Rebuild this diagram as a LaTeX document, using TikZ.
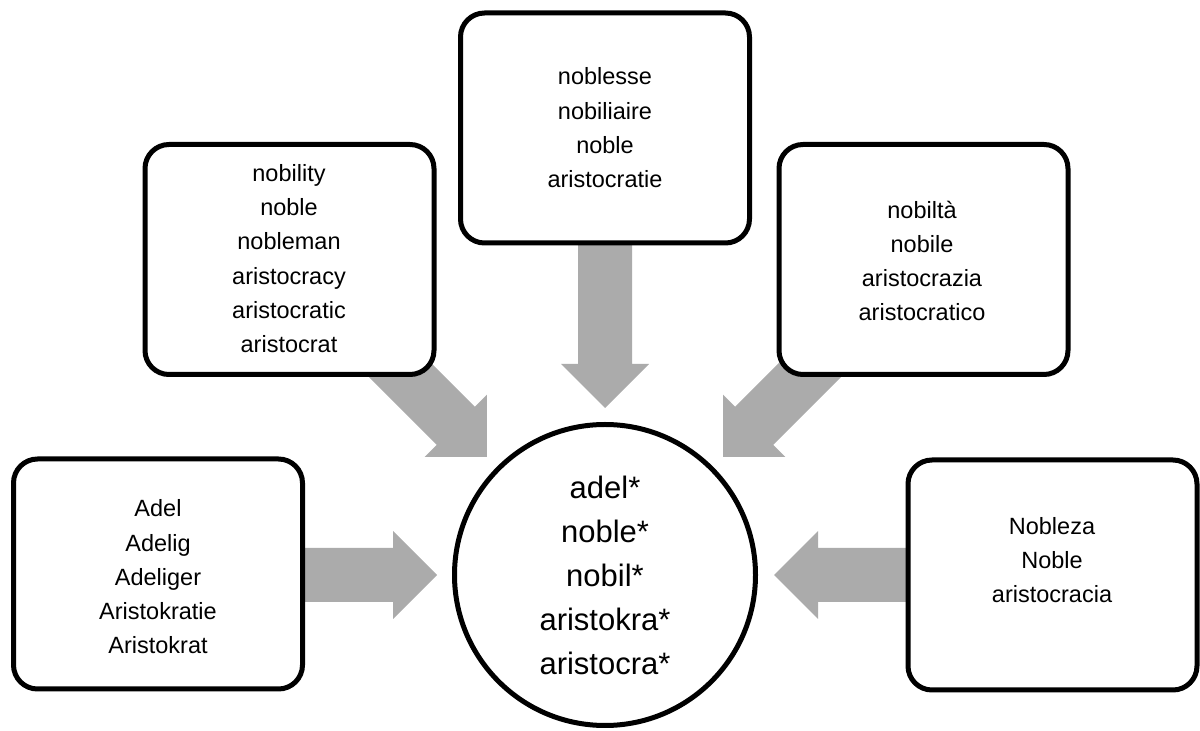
\documentclass[tikz,border=0pt]{standalone}
\usepackage{fontspec}
\setmainfont{Liberation Sans}
\usetikzlibrary{calc}
\pgfdeclarelayer{background}
\pgfsetlayers{background,main}
\tikzset{
  wordbox/.style={draw=black, line width=5pt, rounded corners=24pt, fill=white,
    minimum width=289pt, minimum height=230pt, inner sep=0pt},
  corecircle/.style={circle, draw=black, line width=5pt, fill=white,
    minimum size=301pt, inner sep=0pt},
  boxtext/.style={align=center, font=\fontsize{23.5}{34.3}\selectfont, inner sep=0pt},
  coretext/.style={align=center, font=\fontsize{31}{44}\selectfont, inner sep=0pt},
  arrowfill/.style={fill=black!33},
}
% #1 name prefix, #2 tail coordinate, #3 tip coordinate
\newcommand\fatarrow[3]{%
  \coordinate (#1h) at ($(#3)!44pt!(#2)$);
  \fill[arrowfill] ($(#2)!27pt!90:(#3)$) -- ($(#1h)!27pt!90:(#3)$)
    -- ($(#1h)!44pt!90:(#3)$) -- (#3) -- ($(#1h)!44pt!-90:(#3)$)
    -- ($(#1h)!27pt!-90:(#3)$) -- ($(#2)!27pt!-90:(#3)$) -- cycle;
}
\begin{document}
\begin{tikzpicture}[x=1pt,y=1pt]
\useasboundingbox (0,0) rectangle (1200,731);

% boxes
\node[wordbox] (de) at (158,157) {};
\node[wordbox] (en) at (289.5,471.5) {};
\node[wordbox] (fr) at (605,603) {};
\node[wordbox] (it) at (923.5,471.5) {};
\node[wordbox] (es) at (1052.5,156) {};
\node[corecircle] (core) at (605,156) {};

% texts
\node[boxtext] (detxt) at (158,154) {Adel\\Adelig\\Adeliger\\Aristokratie\\Aristokrat};
\node[boxtext] (entxt) at (289,472.5) {nobility\\noble\\nobleman\\aristocracy\\aristocratic\\aristocrat};
\node[boxtext] (frtxt) at (605,603) {noblesse\\nobiliaire\\noble\\aristocratie};
\node[boxtext] (ittxt) at (922,470) {nobiltà\\nobile\\aristocrazia\\aristocratico};
\node[boxtext] (estxt) at (1052,171) {Nobleza\\Noble\\aristocracia};
\node[coretext] (coretxt) at (605,156) {adel*\\noble*\\nobil*\\aristokra*\\aristocra*};

% arrows
\begin{pgfonlayer}{background}
  \coordinate (tp1) at ($(core.center)+(180:168)$);
  \coordinate (ta1) at ($(tp1 -| de.east)+(-20,0)$);
  \fatarrow{a1}{ta1}{tp1}
  \coordinate (tp2) at ($(core.center)+(0:169)$);
  \coordinate (ta2) at ($(tp2 -| es.west)+(20,0)$);
  \fatarrow{a2}{ta2}{tp2}
  \coordinate (tp3) at ($(core.center)+(90:167)$);
  \coordinate (ta3) at ($(tp3 |- fr.south)+(0,20)$);
  \fatarrow{a3}{ta3}{tp3}
  \coordinate (tp4) at ($(core.center)+(135:167)$);
  \coordinate (ta4) at ($(core.center)+(135:330)$);
  \fatarrow{a4}{ta4}{tp4}
  \coordinate (tp5) at ($(core.center)+(45:167)$);
  \coordinate (ta5) at ($(core.center)+(45:330)$);
  \fatarrow{a5}{ta5}{tp5}
\end{pgfonlayer}
\end{tikzpicture}
\end{document}
